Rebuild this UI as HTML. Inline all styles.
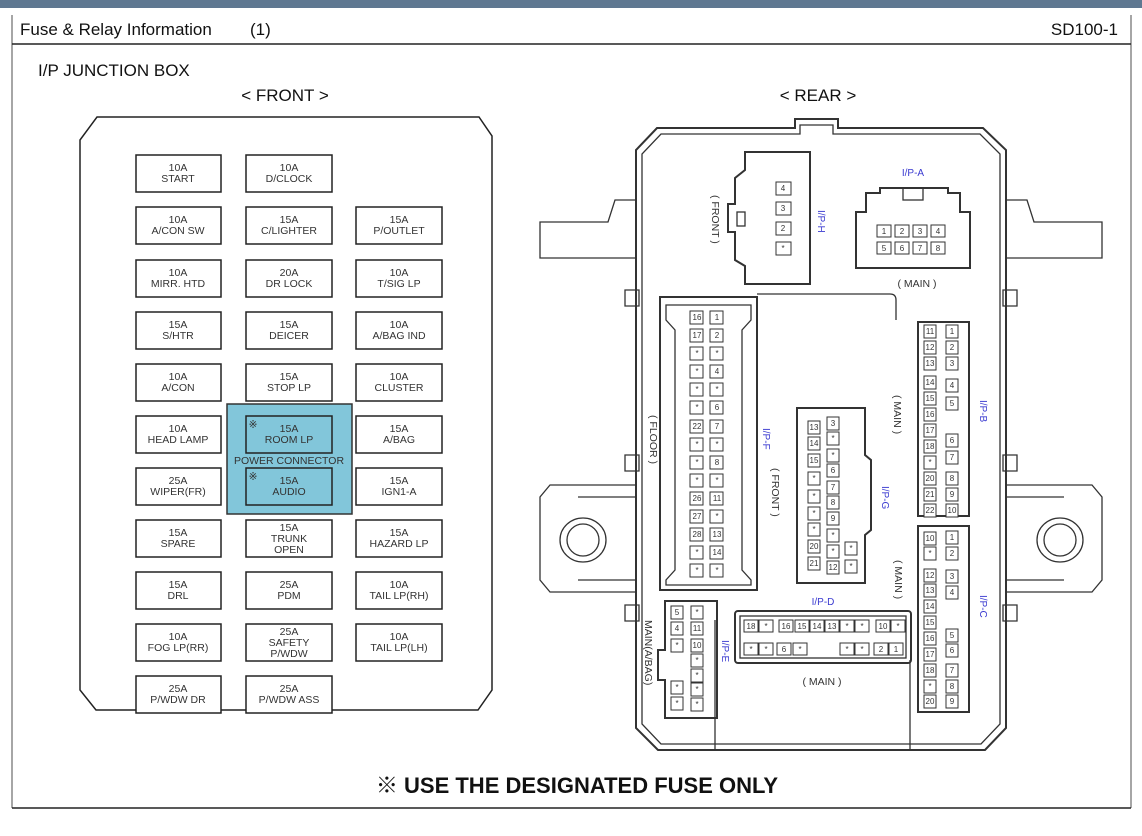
<!DOCTYPE html>
<html><head><meta charset="utf-8"><style>
html,body{margin:0;padding:0;background:#fff;}
svg{display:block;font-family:"Liberation Sans",Arial,sans-serif;}
.f rect{fill:#fff;stroke:#222;stroke-width:1.5}
.f text{font-size:10.5px;fill:#333;text-anchor:middle}
.p rect{fill:#fff;stroke:#333;stroke-width:1}
.p text{font-size:8px;fill:#333;text-anchor:middle}
.bl{fill:#3a3ad0;font-size:10px}
.lb{fill:#333;font-size:10.5px}
.o{fill:none;stroke:#333;stroke-width:1.3}
</style></head><body>
<svg width="1142" height="836" viewBox="0 0 1142 836" xmlns="http://www.w3.org/2000/svg">
<rect x="0" y="0" width="1142" height="8" fill="#5f7891"/>
<line x1="12" y1="15" x2="12" y2="808" stroke="#888" stroke-width="1.5"/>
<line x1="1131" y1="15" x2="1131" y2="808" stroke="#888" stroke-width="1.5"/>
<line x1="12" y1="44" x2="1131" y2="44" stroke="#222" stroke-width="1.5"/>
<line x1="12" y1="808" x2="1131" y2="808" stroke="#222" stroke-width="1.5"/>
<text x="20" y="35" font-size="17" fill="#111">Fuse &amp; Relay Information</text>
<text x="250" y="35" font-size="17" fill="#111">(1)</text>
<text x="1118" y="35" font-size="17" fill="#111" text-anchor="end">SD100-1</text>
<text x="38" y="76" font-size="17" fill="#111">I/P JUNCTION BOX</text>
<text x="285" y="101" font-size="17" fill="#111" text-anchor="middle">&lt; FRONT &gt;</text>
<text x="818" y="101" font-size="17" fill="#111" text-anchor="middle">&lt; REAR &gt;</text>

<!-- front panel -->
<path d="M80,140 L97,117 L479,117 L492,136 L492,690 L478,710 L96,710 L80,690 Z" fill="none" stroke="#222" stroke-width="1.5"/>
<rect x="227" y="404" width="125" height="110" fill="#82c6da" stroke="#333" stroke-width="1.5"/>
<g class="f">
<rect x="136" y="155" width="85" height="37"/><text x="178" y="171">10A</text><text x="178" y="182">START</text>
<rect x="246" y="155" width="86" height="37"/><text x="289" y="171">10A</text><text x="289" y="182">D/CLOCK</text>
<rect x="136" y="207" width="85" height="37"/><text x="178" y="223">10A</text><text x="178" y="234">A/CON  SW</text>
<rect x="246" y="207" width="86" height="37"/><text x="289" y="223">15A</text><text x="289" y="234">C/LIGHTER</text>
<rect x="356" y="207" width="86" height="37"/><text x="399" y="223">15A</text><text x="399" y="234">P/OUTLET</text>
<rect x="136" y="260" width="85" height="37"/><text x="178" y="276">10A</text><text x="178" y="287">MIRR. HTD</text>
<rect x="246" y="260" width="86" height="37"/><text x="289" y="276">20A</text><text x="289" y="287">DR LOCK</text>
<rect x="356" y="260" width="86" height="37"/><text x="399" y="276">10A</text><text x="399" y="287">T/SIG LP</text>
<rect x="136" y="312" width="85" height="37"/><text x="178" y="328">15A</text><text x="178" y="339">S/HTR</text>
<rect x="246" y="312" width="86" height="37"/><text x="289" y="328">15A</text><text x="289" y="339">DEICER</text>
<rect x="356" y="312" width="86" height="37"/><text x="399" y="328">10A</text><text x="399" y="339">A/BAG IND</text>
<rect x="136" y="364" width="85" height="37"/><text x="178" y="380">10A</text><text x="178" y="391">A/CON</text>
<rect x="246" y="364" width="86" height="37"/><text x="289" y="380">15A</text><text x="289" y="391">STOP LP</text>
<rect x="356" y="364" width="86" height="37"/><text x="399" y="380">10A</text><text x="399" y="391">CLUSTER</text>
<rect x="136" y="416" width="85" height="37"/><text x="178" y="432">10A</text><text x="178" y="443">HEAD LAMP</text>
<rect x="246" y="416" width="86" height="37" style="fill:#82c6da"/><text x="289" y="432">15A</text><text x="289" y="443">ROOM LP</text><text x="253" y="428">※</text>
<rect x="356" y="416" width="86" height="37"/><text x="399" y="432">15A</text><text x="399" y="443">A/BAG</text>
<rect x="136" y="468" width="85" height="37"/><text x="178" y="484">25A</text><text x="178" y="495">WIPER(FR)</text>
<rect x="246" y="468" width="86" height="37" style="fill:#82c6da"/><text x="289" y="484">15A</text><text x="289" y="495">AUDIO</text><text x="253" y="480">※</text>
<rect x="356" y="468" width="86" height="37"/><text x="399" y="484">15A</text><text x="399" y="495">IGN1-A</text>
<rect x="136" y="520" width="85" height="37"/><text x="178" y="536">15A</text><text x="178" y="547">SPARE</text>
<rect x="246" y="520" width="86" height="37"/><text x="289" y="531">15A</text><text x="289" y="542">TRUNK</text><text x="289" y="553">OPEN</text>
<rect x="356" y="520" width="86" height="37"/><text x="399" y="536">15A</text><text x="399" y="547">HAZARD LP</text>
<rect x="136" y="572" width="85" height="37"/><text x="178" y="588">15A</text><text x="178" y="599">DRL</text>
<rect x="246" y="572" width="86" height="37"/><text x="289" y="588">25A</text><text x="289" y="599">PDM</text>
<rect x="356" y="572" width="86" height="37"/><text x="399" y="588">10A</text><text x="399" y="599">TAIL LP(RH)</text>
<rect x="136" y="624" width="85" height="37"/><text x="178" y="640">10A</text><text x="178" y="651">FOG LP(RR)</text>
<rect x="246" y="624" width="86" height="37"/><text x="289" y="635">25A</text><text x="289" y="646">SAFETY</text><text x="289" y="657">P/WDW</text>
<rect x="356" y="624" width="86" height="37"/><text x="399" y="640">10A</text><text x="399" y="651">TAIL LP(LH)</text>
<rect x="136" y="676" width="85" height="37"/><text x="178" y="692">25A</text><text x="178" y="703">P/WDW DR</text>
<rect x="246" y="676" width="86" height="37"/><text x="289" y="692">25A</text><text x="289" y="703">P/WDW ASS</text>
</g>
<text x="289" y="464" font-size="10.5" fill="#333" text-anchor="middle">POWER CONNECTOR</text>

<!-- rear body -->
<g class="o">
<path d="M795,128 L795,119 L838,119 L838,128 L983,128 L1006,150 L1006,728 L985,750 L658,750 L636,728 L636,150 L657,128 Z" stroke-width="2"/>
<path d="M800,134 L800,125 L833,125 L833,134 L980,134 L1000,154 L1000,724 L981,744 L661,744 L642,724 L642,154 L661,134 Z"/>
<path d="M636,200 L615,200 L608,222 L540,222 L540,258 L636,258"/>
<path d="M1006,200 L1027,200 L1034,222 L1102,222 L1102,258 L1006,258"/>
<path d="M636,485 L550,485 L540,497 L540,580 L550,592 L636,592"/>
<path d="M1006,485 L1092,485 L1102,497 L1102,580 L1092,592 L1006,592"/>
<path d="M578,497 L636,497 M578,580 L636,580 M1064,497 L1006,497 M1064,580 L1006,580"/>
<ellipse cx="583" cy="540" rx="23" ry="22"/><ellipse cx="583" cy="540" rx="16" ry="16"/>
<ellipse cx="1060" cy="540" rx="23" ry="22"/><ellipse cx="1060" cy="540" rx="16" ry="16"/>
<path d="M625,290 h14 v16 h-14z M625,455 h14 v16 h-14z M625,605 h14 v16 h-14z M1003,290 h14 v16 h-14z M1003,455 h14 v16 h-14z M1003,605 h14 v16 h-14z"/>
<path d="M757,294 L890,294 Q896,294 896,300 L896,320 M715,620 L715,750 M910,660 L910,750"/>
<!-- I/P-H -->
<path d="M745,152 L810,152 L810,284 L745,284 L745,266 L735,260 L735,232 L728,232 L728,204 L735,204 L735,178 L745,170 Z" stroke-width="2"/>
<rect x="737" y="212" width="8" height="14"/>
<!-- I/P-A -->
<path d="M856,212 L866,212 L866,193 L880,193 L880,188 L948,188 L948,193 L960,193 L960,212 L970,212 L970,268 L856,268 Z" stroke-width="2"/>
<rect x="903" y="188" width="20" height="12"/>
<!-- I/P-F -->
<path d="M660,297 L757,297 L757,590 L660,590 Z" stroke-width="2"/>
<path d="M666,305 L751,305 L751,320 L742,330 L742,570 L751,580 L751,585 L666,585 L666,580 L675,570 L675,330 L666,320 Z"/>
<!-- I/P-G -->
<path d="M797,408 L865,408 L865,455 L871,460 L871,530 L865,535 L865,583 L797,583 Z" stroke-width="2"/>
<!-- I/P-B / C -->
<rect x="918" y="322" width="51" height="194" stroke-width="2"/>
<rect x="918" y="526" width="51" height="186" stroke-width="2"/>
<!-- I/P-E -->
<path d="M665,601 L717,601 L717,718 L665,718 L665,680 L658,680 L658,650 L665,650 Z" stroke-width="2"/>
<!-- I/P-D -->
<rect x="735" y="611" width="176" height="52" rx="3" stroke-width="2"/>
<rect x="740" y="616" width="166" height="42"/>
</g>
<g class="p">
<!-- H -->
<rect x="776" y="182" width="15" height="13"/><text x="783" y="191">4</text>
<rect x="776" y="202" width="15" height="13"/><text x="783" y="211">3</text>
<rect x="776" y="222" width="15" height="13"/><text x="783" y="231">2</text>
<rect x="776" y="242" width="15" height="13"/><text x="783" y="251">*</text>
<!-- A -->
<rect x="877" y="225" width="14" height="12"/><text x="884" y="234">1</text>
<rect x="895" y="225" width="14" height="12"/><text x="902" y="234">2</text>
<rect x="913" y="225" width="14" height="12"/><text x="920" y="234">3</text>
<rect x="931" y="225" width="14" height="12"/><text x="938" y="234">4</text>
<rect x="877" y="242" width="14" height="12"/><text x="884" y="251">5</text>
<rect x="895" y="242" width="14" height="12"/><text x="902" y="251">6</text>
<rect x="913" y="242" width="14" height="12"/><text x="920" y="251">7</text>
<rect x="931" y="242" width="14" height="12"/><text x="938" y="251">8</text>
<!-- F col1 -->
<rect x="690" y="311" width="13" height="13"/><text x="697" y="320">16</text>
<rect x="690" y="329" width="13" height="13"/><text x="697" y="338">17</text>
<rect x="690" y="347" width="13" height="13"/><text x="697" y="356">*</text>
<rect x="690" y="365" width="13" height="13"/><text x="697" y="374">*</text>
<rect x="690" y="383" width="13" height="13"/><text x="697" y="392">*</text>
<rect x="690" y="401" width="13" height="13"/><text x="697" y="410">*</text>
<rect x="690" y="420" width="13" height="13"/><text x="697" y="429">22</text>
<rect x="690" y="438" width="13" height="13"/><text x="697" y="447">*</text>
<rect x="690" y="456" width="13" height="13"/><text x="697" y="465">*</text>
<rect x="690" y="474" width="13" height="13"/><text x="697" y="483">*</text>
<rect x="690" y="492" width="13" height="13"/><text x="697" y="501">26</text>
<rect x="690" y="510" width="13" height="13"/><text x="697" y="519">27</text>
<rect x="690" y="528" width="13" height="13"/><text x="697" y="537">28</text>
<rect x="690" y="546" width="13" height="13"/><text x="697" y="555">*</text>
<rect x="690" y="564" width="13" height="13"/><text x="697" y="573">*</text>
<!-- F col2 -->
<rect x="710" y="311" width="13" height="13"/><text x="717" y="320">1</text>
<rect x="710" y="329" width="13" height="13"/><text x="717" y="338">2</text>
<rect x="710" y="347" width="13" height="13"/><text x="717" y="356">*</text>
<rect x="710" y="365" width="13" height="13"/><text x="717" y="374">4</text>
<rect x="710" y="383" width="13" height="13"/><text x="717" y="392">*</text>
<rect x="710" y="401" width="13" height="13"/><text x="717" y="410">6</text>
<rect x="710" y="420" width="13" height="13"/><text x="717" y="429">7</text>
<rect x="710" y="438" width="13" height="13"/><text x="717" y="447">*</text>
<rect x="710" y="456" width="13" height="13"/><text x="717" y="465">8</text>
<rect x="710" y="474" width="13" height="13"/><text x="717" y="483">*</text>
<rect x="710" y="492" width="13" height="13"/><text x="717" y="501">11</text>
<rect x="710" y="510" width="13" height="13"/><text x="717" y="519">*</text>
<rect x="710" y="528" width="13" height="13"/><text x="717" y="537">13</text>
<rect x="710" y="546" width="13" height="13"/><text x="717" y="555">14</text>
<rect x="710" y="564" width="13" height="13"/><text x="717" y="573">*</text>
<!-- G -->
<rect x="808" y="421" width="12" height="13"/><text x="814" y="430">13</text>
<rect x="808" y="437" width="12" height="13"/><text x="814" y="446">14</text>
<rect x="808" y="454" width="12" height="13"/><text x="814" y="463">15</text>
<rect x="808" y="472" width="12" height="13"/><text x="814" y="481">*</text>
<rect x="808" y="490" width="12" height="13"/><text x="814" y="499">*</text>
<rect x="808" y="507" width="12" height="13"/><text x="814" y="516">*</text>
<rect x="808" y="523" width="12" height="13"/><text x="814" y="532">*</text>
<rect x="808" y="540" width="12" height="13"/><text x="814" y="549">20</text>
<rect x="808" y="557" width="12" height="13"/><text x="814" y="566">21</text>
<rect x="827" y="417" width="12" height="13"/><text x="833" y="426">3</text>
<rect x="827" y="432" width="12" height="13"/><text x="833" y="441">*</text>
<rect x="827" y="449" width="12" height="13"/><text x="833" y="458">*</text>
<rect x="827" y="464" width="12" height="13"/><text x="833" y="473">6</text>
<rect x="827" y="481" width="12" height="13"/><text x="833" y="490">7</text>
<rect x="827" y="496" width="12" height="13"/><text x="833" y="505">8</text>
<rect x="827" y="512" width="12" height="13"/><text x="833" y="521">9</text>
<rect x="827" y="529" width="12" height="13"/><text x="833" y="538">*</text>
<rect x="827" y="545" width="12" height="13"/><text x="833" y="554">*</text>
<rect x="827" y="561" width="12" height="13"/><text x="833" y="570">12</text>
<rect x="845" y="542" width="12" height="13"/><text x="851" y="551">*</text>
<rect x="845" y="560" width="12" height="13"/><text x="851" y="569">*</text>
<!-- B -->
<rect x="924" y="325" width="12" height="13"/><text x="930" y="334">11</text>
<rect x="924" y="341" width="12" height="13"/><text x="930" y="350">12</text>
<rect x="924" y="357" width="12" height="13"/><text x="930" y="366">13</text>
<rect x="924" y="376" width="12" height="13"/><text x="930" y="385">14</text>
<rect x="924" y="392" width="12" height="13"/><text x="930" y="401">15</text>
<rect x="924" y="408" width="12" height="13"/><text x="930" y="417">16</text>
<rect x="924" y="424" width="12" height="13"/><text x="930" y="433">17</text>
<rect x="924" y="440" width="12" height="13"/><text x="930" y="449">18</text>
<rect x="924" y="456" width="12" height="13"/><text x="930" y="465">*</text>
<rect x="924" y="472" width="12" height="13"/><text x="930" y="481">20</text>
<rect x="924" y="488" width="12" height="13"/><text x="930" y="497">21</text>
<rect x="924" y="504" width="12" height="13"/><text x="930" y="513">22</text>
<rect x="946" y="325" width="12" height="13"/><text x="952" y="334">1</text>
<rect x="946" y="341" width="12" height="13"/><text x="952" y="350">2</text>
<rect x="946" y="357" width="12" height="13"/><text x="952" y="366">3</text>
<rect x="946" y="379" width="12" height="13"/><text x="952" y="388">4</text>
<rect x="946" y="397" width="12" height="13"/><text x="952" y="406">5</text>
<rect x="946" y="434" width="12" height="13"/><text x="952" y="443">6</text>
<rect x="946" y="451" width="12" height="13"/><text x="952" y="460">7</text>
<rect x="946" y="472" width="12" height="13"/><text x="952" y="481">8</text>
<rect x="946" y="488" width="12" height="13"/><text x="952" y="497">9</text>
<rect x="946" y="504" width="12" height="13"/><text x="952" y="513">10</text>
<!-- C -->
<rect x="924" y="532" width="12" height="13"/><text x="930" y="541">10</text>
<rect x="924" y="547" width="12" height="13"/><text x="930" y="556">*</text>
<rect x="924" y="569" width="12" height="13"/><text x="930" y="578">12</text>
<rect x="924" y="584" width="12" height="13"/><text x="930" y="593">13</text>
<rect x="924" y="600" width="12" height="13"/><text x="930" y="609">14</text>
<rect x="924" y="616" width="12" height="13"/><text x="930" y="625">15</text>
<rect x="924" y="632" width="12" height="13"/><text x="930" y="641">16</text>
<rect x="924" y="648" width="12" height="13"/><text x="930" y="657">17</text>
<rect x="924" y="664" width="12" height="13"/><text x="930" y="673">18</text>
<rect x="924" y="680" width="12" height="13"/><text x="930" y="689">*</text>
<rect x="924" y="695" width="12" height="13"/><text x="930" y="704">20</text>
<rect x="946" y="531" width="12" height="13"/><text x="952" y="540">1</text>
<rect x="946" y="547" width="12" height="13"/><text x="952" y="556">2</text>
<rect x="946" y="570" width="12" height="13"/><text x="952" y="579">3</text>
<rect x="946" y="586" width="12" height="13"/><text x="952" y="595">4</text>
<rect x="946" y="629" width="12" height="13"/><text x="952" y="638">5</text>
<rect x="946" y="644" width="12" height="13"/><text x="952" y="653">6</text>
<rect x="946" y="664" width="12" height="13"/><text x="952" y="673">7</text>
<rect x="946" y="680" width="12" height="13"/><text x="952" y="689">8</text>
<rect x="946" y="695" width="12" height="13"/><text x="952" y="704">9</text>
<!-- E -->
<rect x="671" y="606" width="12" height="13"/><text x="677" y="615">5</text>
<rect x="671" y="622" width="12" height="13"/><text x="677" y="631">4</text>
<rect x="671" y="639" width="12" height="13"/><text x="677" y="648">*</text>
<rect x="671" y="681" width="12" height="13"/><text x="677" y="690">*</text>
<rect x="671" y="697" width="12" height="13"/><text x="677" y="706">*</text>
<rect x="691" y="606" width="12" height="13"/><text x="697" y="615">*</text>
<rect x="691" y="622" width="12" height="13"/><text x="697" y="631">11</text>
<rect x="691" y="639" width="12" height="13"/><text x="697" y="648">10</text>
<rect x="691" y="654" width="12" height="13"/><text x="697" y="663">*</text>
<rect x="691" y="669" width="12" height="13"/><text x="697" y="678">*</text>
<rect x="691" y="683" width="12" height="13"/><text x="697" y="692">*</text>
<rect x="691" y="698" width="12" height="13"/><text x="697" y="707">*</text>
<!-- D -->
<rect x="744" y="620" width="14" height="12"/><text x="751" y="629">18</text>
<rect x="759" y="620" width="14" height="12"/><text x="766" y="629">*</text>
<rect x="779" y="620" width="14" height="12"/><text x="786" y="629">16</text>
<rect x="795" y="620" width="14" height="12"/><text x="802" y="629">15</text>
<rect x="810" y="620" width="14" height="12"/><text x="817" y="629">14</text>
<rect x="825" y="620" width="14" height="12"/><text x="832" y="629">13</text>
<rect x="840" y="620" width="14" height="12"/><text x="847" y="629">*</text>
<rect x="855" y="620" width="14" height="12"/><text x="862" y="629">*</text>
<rect x="876" y="620" width="14" height="12"/><text x="883" y="629">10</text>
<rect x="891" y="620" width="14" height="12"/><text x="898" y="629">*</text>
<rect x="744" y="643" width="14" height="12"/><text x="751" y="652">*</text>
<rect x="759" y="643" width="14" height="12"/><text x="766" y="652">*</text>
<rect x="777" y="643" width="14" height="12"/><text x="784" y="652">6</text>
<rect x="793" y="643" width="14" height="12"/><text x="800" y="652">*</text>
<rect x="840" y="643" width="14" height="12"/><text x="847" y="652">*</text>
<rect x="855" y="643" width="14" height="12"/><text x="862" y="652">*</text>
<rect x="874" y="643" width="14" height="12"/><text x="881" y="652">2</text>
<rect x="889" y="643" width="14" height="12"/><text x="896" y="652">1</text>
</g>
<text class="bl" x="913" y="176" text-anchor="middle">I/P-A</text>
<text class="lb" x="917" y="287" text-anchor="middle">( MAIN )</text>
<text class="bl" x="823" y="605" text-anchor="middle">I/P-D</text>
<text class="lb" x="822" y="685" text-anchor="middle">( MAIN )</text>
<text class="bl" transform="translate(818,210) rotate(90)">I/P-H</text>
<text class="lb" transform="translate(712,195) rotate(90)">( FRONT )</text>
<text class="bl" transform="translate(763,428) rotate(90)">I/P-F</text>
<text class="lb" transform="translate(650,415) rotate(90)">( FLOOR )</text>
<text class="lb" transform="translate(772,468) rotate(90)">( FRONT )</text>
<text class="bl" transform="translate(882,486) rotate(90)">I/P-G</text>
<text class="bl" transform="translate(980,400) rotate(90)">I/P-B</text>
<text class="bl" transform="translate(980,595) rotate(90)">I/P-C</text>
<text class="lb" transform="translate(894,395) rotate(90)">( MAIN )</text>
<text class="lb" transform="translate(895,560) rotate(90)">( MAIN )</text>
<text class="bl" transform="translate(722,640) rotate(90)">I/P-E</text>
<text class="lb" transform="translate(645,620) rotate(90)">MAIN(A/BAG)</text>

<text x="577" y="793" font-size="22" font-weight="bold" fill="#111" text-anchor="middle" font-family="'Liberation Sans','Noto Sans CJK JP',sans-serif">※ USE THE DESIGNATED FUSE ONLY</text>
</svg>
</body></html>
